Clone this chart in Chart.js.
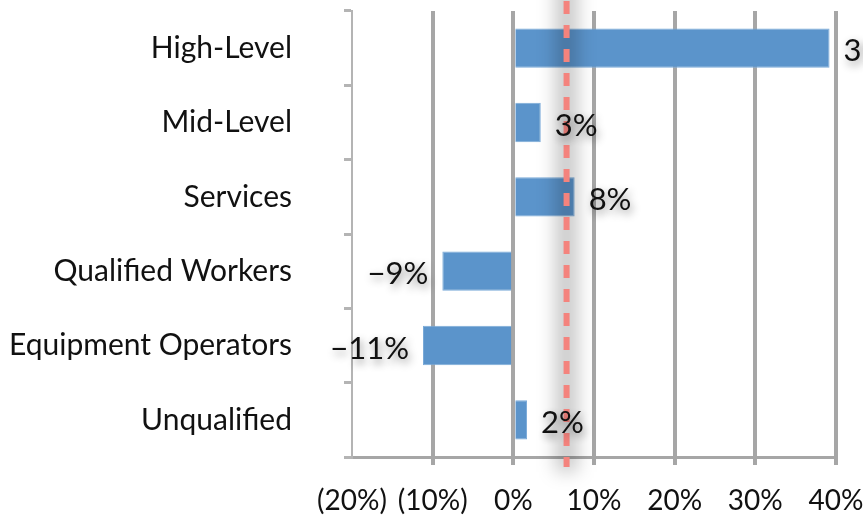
<!DOCTYPE html>
<html lang="en">
<head>
    <meta charset="UTF-8">
    <title>Job Growth by Level</title>
    <script src="https://cdn.jsdelivr.net/npm/chart.js"></script>
    <style>
        html, body { margin: 0; padding: 0; background: #fff; }
        #wrap { width: 863px; height: 525px; }
    </style>
</head>
<body>
    <div id="wrap"><canvas id="growthChart"></canvas></div>

    <script>
        // data
        const categories = ['High-Level', 'Mid-Level', 'Services', 'Qualified Workers', 'Equipment Operators', 'Unqualified'];
        const growth = [39.2, 3.4, 7.6, -8.8, -11.2, 1.7];
        const averageLine = 6.6;
        const xTicks = [-20, -10, 0, 10, 20, 30, 40];

        const fontFamily = 'Lato, "Open Sans", sans-serif';

        function pctLabel(v) {
            const r = Math.round(v);
            return (r < 0 ? '\u2212' + Math.abs(r) : r) + '%';
        }

        // gray blurred band + dashed line
        const averagePlugin = {
            id: 'averagePlugin',
            afterDatasetsDraw(chart) {
                const ctx = chart.ctx;
                const x = chart.scales.x.getPixelForValue(averageLine);
                const bottom = chart.chartArea.bottom;
                ctx.save();
                ctx.filter = 'blur(9px)';
                ctx.fillStyle = 'rgba(0,0,0,0.22)';
                ctx.fillRect(x - 11, -20, 22, bottom + 35);
                ctx.filter = 'none';
                ctx.strokeStyle = '#f4837d';
                ctx.lineWidth = 6;
                ctx.setLineDash([13, 11]);
                ctx.beginPath();
                ctx.moveTo(x, 1);
                ctx.lineTo(x, bottom + 10);
                ctx.stroke();
                ctx.restore();
            }
        };

        // value labels with soft shadow
        const valueLabels = {
            id: 'valueLabels',
            afterDraw(chart) {
                const ctx = chart.ctx;
                const meta = chart.getDatasetMeta(0);
                ctx.save();
                ctx.font = '31px ' + fontFamily;
                ctx.textBaseline = 'middle';
                ctx.fillStyle = '#111';
                ctx.shadowColor = 'rgba(0,0,0,0.45)';
                ctx.shadowBlur = 8;
                ctx.shadowOffsetX = 2;
                ctx.shadowOffsetY = 4;
                meta.data.forEach((bar, i) => {
                    const v = growth[i];
                    if (v >= 0) {
                        ctx.textAlign = 'left';
                        ctx.fillText(pctLabel(v), bar.x + 14, bar.y + 3);
                    } else {
                        ctx.textAlign = 'right';
                        ctx.fillText(pctLabel(v), bar.x - 14, bar.y + 3);
                    }
                });
                ctx.restore();
            }
        };

        new Chart(document.getElementById('growthChart'), {
            type: 'bar',
            data: {
                labels: categories,
                datasets: [{
                    data: growth,
                    backgroundColor: '#5b94cb',
                    borderColor: '#7aaad8',
                    borderWidth: 1,
                    barPercentage: 0.53,
                    categoryPercentage: 1
                }]
            },
            options: {
                indexAxis: 'y',
                responsive: true,
                maintainAspectRatio: false,
                animation: false,
                layout: { padding: { top: 11, right: 27, bottom: 0, left: 0 } },
                plugins: {
                    legend: { display: false },
                    tooltip: { enabled: false }
                },
                scales: {
                    x: {
                        min: -20,
                        max: 40,
                        afterBuildTicks: (scale) => { scale.ticks = xTicks.map(v => ({ value: v })); },
                        afterFit: (scale) => {
                            scale.height = 68;
                            scale.paddingLeft = 0;
                            scale.paddingRight = 0;
                            scale.paddingBottom = 0;
                        },
                        ticks: {
                            padding: 19,
                            color: '#111',
                            font: { family: fontFamily, size: 28 },
                            callback: (v) => v < 0 ? '(' + Math.abs(v) + '%)' : v + '%'
                        },
                        grid: {
                            color: (c) => c.index === 0 ? 'rgba(0,0,0,0)' : '#a6a6a6',
                            lineWidth: 4,
                            tickLength: 8
                        },
                        border: { display: true, color: '#a6a6a6', width: 3 }
                    },
                    y: {
                        afterFit: (scale) => {
                            scale.width = 352;
                            scale.paddingTop = 0;
                            scale.paddingBottom = 0;
                        },
                        ticks: {
                            padding: 52,
                            color: '#111',
                            font: { family: fontFamily, size: 30 }
                        },
                        grid: {
                            drawOnChartArea: false,
                            color: '#b4b4b4',
                            lineWidth: 3,
                            tickLength: 8
                        },
                        border: { display: true, color: '#b4b4b4', width: 2 }
                    }
                }
            },
            plugins: [averagePlugin, valueLabels]
        });
    </script>
</body>
</html>
